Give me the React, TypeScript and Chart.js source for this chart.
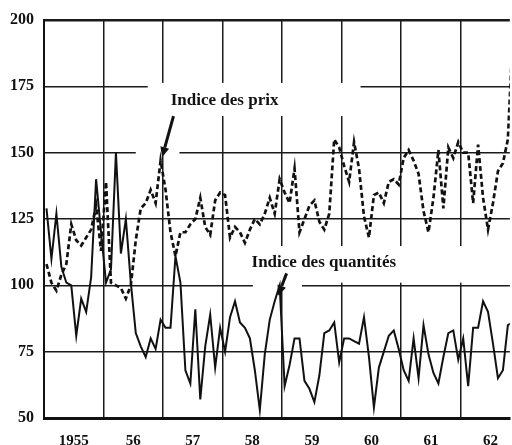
import React, { useEffect, useRef } from "react";
import { Chart, registerables } from "chart.js";

Chart.register(...registerables);

// Year labels (one per year, centred in each year band)
const yearLabels = ["1955", "56", "57", "58", "59", "60", "61", "62"];
// Y axis tick values
const yTickValues = [50, 75, 100, 125, 150, 175, 200];

// Monthly series, January 1955 to November 1962
const prix = [
  108, 101, 98, 104, 108, 123, 117, 115, 118, 121, 130, 113,
  139, 101, 100, 99, 95, 100, 117, 129, 131, 136, 131, 147,
  136, 120, 111, 120, 120, 123, 125, 133, 122, 119, 132, 135,
  134, 118, 122, 120, 116, 121, 125, 123, 127, 133, 127, 140,
  135, 131, 144, 120, 125, 130, 132, 124, 121, 127, 155, 152,
  145, 139, 154, 144, 126, 118, 134, 135, 131, 139, 140, 138,
  148, 151, 147, 142, 128, 120, 133, 151, 129, 152, 148, 154,
  150, 150, 131, 153, 133, 121, 131, 143, 146, 155, 195,
];

const quantites = [
  129, 110, 127, 107, 101, 100, 81, 95, 90, 103, 140, 120,
  101, 106, 150, 112, 125, 101, 82, 77, 73, 80, 76, 87,
  84, 84, 111, 101, 68, 63, 91, 57, 77, 89, 69, 84,
  75, 88, 94, 86, 84, 80, 68, 53, 74, 87, 94, 100,
  62, 70, 80, 80, 64, 61, 56, 66, 82, 83, 86, 71,
  80, 80, 79, 78, 88, 73, 54, 69, 75, 81, 83, 76,
  68, 64, 80, 65, 85, 74, 67, 63, 73, 82, 83, 72,
  80, 62, 84, 84, 94, 90, 78, 65, 68, 85, 86,
];

// Month position (months since Jan 1955), plotted at mid-month
const monthPos = prix.map((_, i) => i + 0.5);
const X_MAX = 93.9;

// Annotations, in data units (month, index value)
const notes = [
  {
    text: "Indice des prix",
    at: [36.4, 169.8],
    arrow: [[26.1, 163.8], [23.8, 148.3]],
    masks: [
      [20.9, 63.8, 163.8, 176.3],
      [18.5, 27.3, 149.0, 163.8],
    ],
  },
  {
    text: "Indice des quantités",
    at: [56.4, 108.4],
    arrow: [[48.9, 104.5], [47.2, 96.2]],
    masks: [
      [41.3, 85.5, 101.0, 114.8],
      [42.1, 52.0, 98.6, 101.0],
    ],
  },
];

const INK = "#111";
const SERIF = "'Liberation Serif', 'DejaVu Serif', serif";

export default function App() {
  const ref = useRef<HTMLCanvasElement>(null);

  useEffect(() => {
    const canvas = ref.current;
    if (!canvas) return;

    const annot = {
      id: "annot",
      beforeDatasetsDraw(chart: any) {
        const { ctx } = chart;
        const x = chart.scales.x;
        const y = chart.scales.y;
        ctx.save();
        ctx.fillStyle = "#ffffff";
        for (const n of notes) {
          for (const m of n.masks) {
            const x0 = x.getPixelForValue(m[0]);
            const x1 = x.getPixelForValue(m[1]);
            const y0 = y.getPixelForValue(m[3]);
            const y1 = y.getPixelForValue(m[2]);
            ctx.fillRect(x0, y0, x1 - x0, y1 - y0);
          }
        }
        ctx.restore();
      },
      afterDatasetsDraw(chart: any) {
        const { ctx } = chart;
        const x = chart.scales.x;
        const y = chart.scales.y;
        ctx.save();
        for (const n of notes) {
          ctx.fillStyle = INK;
          ctx.font = `bold 17px ${SERIF}`;
          ctx.textAlign = "center";
          ctx.textBaseline = "middle";
          ctx.fillText(n.text, x.getPixelForValue(n.at[0]), y.getPixelForValue(n.at[1]));

          const tx = x.getPixelForValue(n.arrow[0][0]);
          const ty = y.getPixelForValue(n.arrow[0][1]);
          const hx = x.getPixelForValue(n.arrow[1][0]);
          const hy = y.getPixelForValue(n.arrow[1][1]);
          const ang = Math.atan2(hy - ty, hx - tx);
          const headLen = 10;
          const headHalf = 4.5;
          const bx = hx - headLen * Math.cos(ang);
          const by = hy - headLen * Math.sin(ang);
          ctx.strokeStyle = INK;
          ctx.lineWidth = 3;
          ctx.lineCap = "butt";
          ctx.beginPath();
          ctx.moveTo(tx, ty);
          ctx.lineTo(bx, by);
          ctx.stroke();
          ctx.beginPath();
          ctx.moveTo(hx, hy);
          ctx.lineTo(bx + headHalf * Math.sin(ang), by - headHalf * Math.cos(ang));
          ctx.lineTo(bx - headHalf * Math.sin(ang), by + headHalf * Math.cos(ang));
          ctx.closePath();
          ctx.fill();
        }
        ctx.restore();
      },
    };

    const chart = new Chart(canvas, {
      type: "line",
      data: {
        datasets: [
          {
            label: "Indice des prix",
            data: monthPos.map((m, i) => ({ x: m, y: prix[i] })),
            borderColor: INK,
            borderWidth: 2.7,
            borderDash: [5, 3],
            pointRadius: 0,
            tension: 0,
            fill: false,
          },
          {
            label: "Indice des quantités",
            data: monthPos.map((m, i) => ({ x: m, y: quantites[i] })),
            borderColor: INK,
            borderWidth: 2,
            pointRadius: 0,
            tension: 0,
            fill: false,
          },
        ],
      },
      options: {
        animation: false,
        responsive: false,
        devicePixelRatio: 1,
        layout: { padding: { top: 20, right: 0, bottom: 0, left: 0 } },
        plugins: {
          legend: { display: false },
          tooltip: { enabled: false },
        },
        scales: {
          x: {
            type: "linear",
            min: 0,
            max: X_MAX,
            afterBuildTicks: (axis: any) => {
              axis.ticks = yearLabels.flatMap((_, k) => [
                { value: 12 * k },
                { value: 12 * k + 6 },
              ]);
            },
            afterFit: (axis: any) => {
              axis.height = 27;
            },
            grid: {
              drawTicks: false,
              color: (c: any) =>
                c.tick && c.tick.value % 12 === 0 ? "#1a1a1a" : "rgba(0,0,0,0)",
              lineWidth: 1.5,
            },
            border: { display: true, color: INK, width: 3 },
            ticks: {
              autoSkip: false,
              maxRotation: 0,
              padding: 14,
              color: INK,
              font: { family: SERIF, size: 15, weight: "bold" },
              callback: (v: any) => {
                const n = Number(v);
                return n % 12 === 6 ? yearLabels[(n - 6) / 12] : "";
              },
            },
          },
          y: {
            type: "linear",
            min: 50,
            max: 200,
            afterBuildTicks: (axis: any) => {
              axis.ticks = yTickValues.map((v) => ({ value: v }));
            },
            afterFit: (axis: any) => {
              axis.width = 44;
            },
            grid: {
              drawTicks: false,
              color: "#1a1a1a",
              lineWidth: (c: any) => (c.tick && c.tick.value === 200 ? 2.5 : 1.5),
            },
            border: { display: true, color: INK, width: 2 },
            ticks: {
              padding: 10,
              color: INK,
              font: { family: SERIF, size: 16, weight: "bold" },
            },
          },
        },
      },
      plugins: [annot],
    } as any);

    return () => chart.destroy();
  }, []);

  return (
    <div
      style={{
        position: "fixed",
        left: 0,
        top: 0,
        width: 512,
        height: 445,
        background: "#fff",
      }}
    >
      <canvas ref={ref} width={512} height={445} style={{ display: "block" }} />
    </div>
  );
}
